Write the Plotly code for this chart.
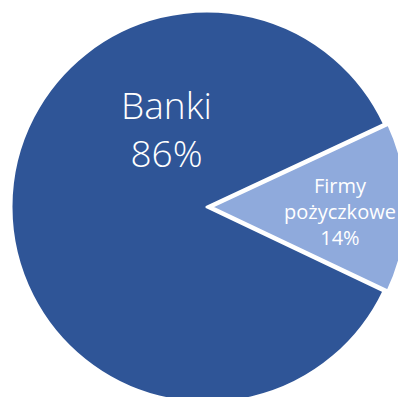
import plotly.graph_objects as go

# Loan sources share
labels = ["Firmy pożyczkowe", "Banki"]
values = [14, 86]
colors = ["#8FAADC", "#2F5597"]
pulls = [0.02, 0]

W, H = 410, 410
cx, cy, r = 207, 207, 196  # pie centre and radius in pixels (from top-left)
rd = r * (1 + max(pulls))  # plotly shrinks the radius to fit pulled slices

fig = go.Figure(
    go.Pie(
        labels=labels,
        values=values,
        sort=False,
        direction="clockwise",
        rotation=65,
        pull=pulls,
        marker=dict(colors=colors, line=dict(color="white", width=3)),
        textinfo="none",
        hoverinfo="label+percent",
        domain=dict(
            x=[max(0, (cx - rd) / W), min(1, (cx + rd) / W)],
            y=[max(0, (H - cy - rd) / H), min(1, (H - cy + rd) / H)],
        ),
        showlegend=False,
    )
)

total = sum(values)
pct = [round(v * 100 / total) for v in values]

# Banki label, upper-left of the large slice
fig.add_annotation(
    x=166 / W, y=(H - 128) / H, xref="paper", yref="paper",
    xanchor="center", yanchor="middle",
    text=f"{labels[1]}<br>{pct[1]}%",
    showarrow=False,
    font=dict(family="Open Sans", size=37, color="white", weight=300),
    align="center",
)
# Small slice label
first, second = labels[0].split()
fig.add_annotation(
    x=340 / W, y=(H - 211) / H, xref="paper", yref="paper",
    xanchor="center", yanchor="middle",
    text=f"{first}<br>{second}<br>{pct[0]}%",
    showarrow=False,
    font=dict(family="Open Sans", size=20, color="white"),
    align="center",
)

fig.update_layout(
    width=W, height=H,
    margin=dict(l=0, r=0, t=0, b=0),
    paper_bgcolor="white",
    plot_bgcolor="white",
)

fig.write_html("out.html")
